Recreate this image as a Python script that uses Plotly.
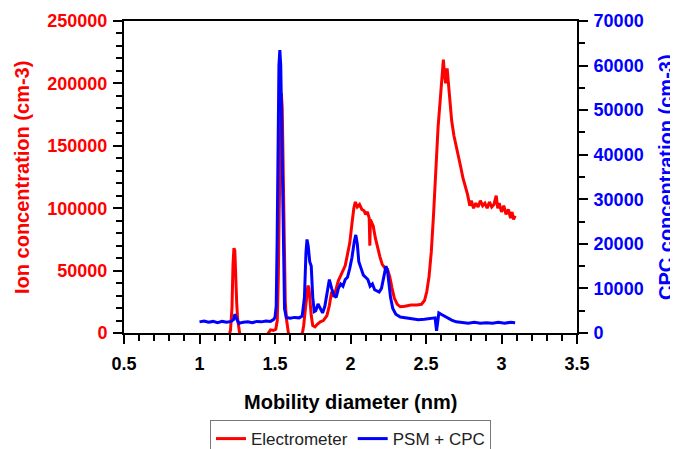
import plotly.graph_objects as go

# ---- Electrometer (ion concentration, left axis) ----
red_d = [1.00, 1.10, 1.19, 1.205, 1.215, 1.222, 1.228, 1.234, 1.240, 1.246, 1.252, 1.258, 1.265, 1.275,
         1.35, 1.44, 1.46, 1.47, 1.49, 1.505, 1.515, 1.522, 1.528, 1.535, 1.542, 1.548, 1.553, 1.558,
         1.563, 1.568, 1.575, 1.582, 1.59, 1.60, 1.66, 1.683, 1.69, 1.70, 1.71, 1.718, 1.725, 1.732,
         1.74, 1.75, 1.765, 1.78, 1.80, 1.82, 1.844, 1.86, 1.875, 1.89, 1.905, 1.92, 1.935, 1.95,
         1.965, 1.98, 1.995, 2.01, 2.022, 2.032, 2.045, 2.06, 2.075, 2.09, 2.10, 2.112, 2.124, 2.128,
         2.132, 2.138, 2.15, 2.165, 2.18, 2.195, 2.21, 2.228, 2.245, 2.26, 2.275, 2.29, 2.31, 2.33,
         2.36, 2.40, 2.44, 2.47, 2.49, 2.505, 2.52, 2.535, 2.55, 2.565, 2.58, 2.595, 2.605, 2.615,
         2.622, 2.63, 2.64, 2.65, 2.66, 2.67, 2.685, 2.70, 2.715, 2.73, 2.745, 2.76, 2.775, 2.79,
         2.80, 2.815, 2.83, 2.845, 2.86, 2.875, 2.89, 2.905, 2.92, 2.935, 2.95, 2.965, 2.975, 2.985,
         3.00, 3.015, 3.03, 3.045, 3.06, 3.07, 3.08, 3.09]
red_v = [-8000, -6000, -4000, 2000, 20000, 55000, 68000, 66000, 40000, 25000, 12000, 4000, 500, -4000,
         -5000, -3000, 1500, 2500, 2000, 3000, 10000, 45000, 100000, 165000, 192000, 180000, 140000, 90000,
         50000, 25000, 12000, 4000, -1000, -6000, -6000, 1000, 6000, 18000, 30000, 38000, 36000, 25000,
         14000, 6000, 5000, 7000, 9000, 10000, 14000, 22000, 33000, 29000, 36000, 42000, 46000, 50000,
         54000, 63000, 72000, 88000, 100000, 105000, 101000, 103000, 99000, 98000, 95000, 97000, 92000, 70000,
         91000, 89000, 86000, 76000, 68000, 61000, 55000, 52000, 51000, 45000, 36000, 28000, 23000, 21000,
         21500, 22500, 22500, 23000, 26000, 33000, 45000, 65000, 95000, 130000, 165000, 188000, 205000, 219000,
         208000, 200000, 212000, 198000, 188000, 170000, 158000, 150000, 143000, 133000, 124000, 118000, 111000, 102000,
         106000, 100000, 104000, 101000, 106000, 102000, 104000, 100000, 105000, 101000, 103000, 110000, 100000, 104000,
         97000, 102000, 95000, 99000, 92000, 97000, 91000, 94000]

# ---- PSM + CPC (CPC concentration, right axis) ----
blue_d = [1.00, 1.03, 1.06, 1.09, 1.12, 1.15, 1.18, 1.21, 1.225, 1.235, 1.245, 1.26, 1.29, 1.32, 1.35,
          1.38, 1.41, 1.44, 1.47, 1.49, 1.50, 1.508, 1.514, 1.520, 1.526, 1.532, 1.538, 1.544, 1.550,
          1.556, 1.563, 1.575, 1.60, 1.63, 1.66, 1.68, 1.695, 1.705, 1.712, 1.72, 1.73, 1.74, 1.75,
          1.76, 1.77, 1.785, 1.80, 1.815, 1.83, 1.845, 1.86, 1.875, 1.89, 1.905, 1.92, 1.935, 1.95,
          1.965, 1.98, 1.995, 2.01, 2.025, 2.035, 2.045, 2.055, 2.07, 2.085, 2.10, 2.115, 2.13, 2.145,
          2.16, 2.175, 2.19, 2.205, 2.22, 2.235, 2.245, 2.255, 2.265, 2.28, 2.30, 2.33, 2.37, 2.41,
          2.45, 2.49, 2.53, 2.56, 2.57, 2.578, 2.585, 2.60, 2.62, 2.64, 2.67, 2.70, 2.74, 2.78,
          2.82, 2.86, 2.90, 2.94, 2.98, 3.02, 3.06, 3.09]
blue_v = [2500, 2700, 2400, 2600, 2300, 2600, 2400, 2600, 3000, 4200, 3200, 2200, 2400, 2500, 2300,
          2600, 2500, 2700, 2600, 3000, 3500, 6000, 20000, 45000, 60000, 63500, 60000, 48000, 30000,
          14000, 5500, 3500, 3300, 3500, 3400, 3800, 8000, 18000, 21000, 19500, 16000, 15000, 8000,
          4800, 5000, 6500, 5500, 4500, 6000, 9500, 12000, 10000, 8500, 8000, 10000, 11000, 10500,
          12000, 12500, 14500, 17000, 20500, 22000, 20000, 16000, 14500, 13000, 12500, 12000, 10500, 11000,
          9700, 9500, 9200, 10000, 12500, 15000, 14000, 11000, 8000, 5500, 4200, 3600, 3400, 3100,
          3000, 3100, 3200, 3400, 500, 2500, 4500, 4200, 3800, 3500, 2900, 2500, 2400, 2200,
          2400, 2200, 2300, 2200, 2400, 2200, 2400, 2300]

x_ticks = [0.5, 1, 1.5, 2, 2.5, 3, 3.5]

FONT = "Liberation Sans, Arial, sans-serif"

fig = go.Figure()
fig.add_trace(go.Scatter(x=red_d, y=red_v, mode="lines", name="Electrometer",
                         line=dict(color="#ff0000", width=3), yaxis="y"))
fig.add_trace(go.Scatter(x=blue_d, y=blue_v, mode="lines", name="PSM + CPC",
                         line=dict(color="#0000ff", width=3), yaxis="y2"))

tickfont_bold = dict(family=FONT, size=18, weight="bold")

# the page body adds an ~8px offset, so the figure is sized to fit the window
fig.update_layout(
    width=670, height=441,
    margin=dict(l=116, r=101, t=13, b=116, autoexpand=False),
    paper_bgcolor="white", plot_bgcolor="white",
    font=dict(family=FONT),
    xaxis=dict(range=[0.5, 3.5], tickvals=x_ticks, ticktext=[str(t) for t in x_ticks],
               showgrid=False, zeroline=False, automargin=False,
               showline=True, linecolor="black", linewidth=2, mirror=True,
               ticks="outside", ticklen=9, tickwidth=2, tickcolor="black",
               minor=dict(dtick=0.1, tick0=0.5, ticks="outside", ticklen=6, tickwidth=2, tickcolor="black"),
               tickfont=dict(color="black", **tickfont_bold), ticklabelstandoff=4),
    yaxis=dict(range=[0, 250000], dtick=50000, tickformat="d",
               showgrid=False, zeroline=False, automargin=False,
               showline=True, linecolor="black", linewidth=2,
               ticks="outside", ticklen=9, tickwidth=2, tickcolor="black",
               minor=dict(dtick=10000, ticks="outside", ticklen=6, tickwidth=2, tickcolor="black"),
               tickfont=dict(color="#ff0000", **tickfont_bold), ticklabelstandoff=2),
    yaxis2=dict(range=[0, 70000], dtick=10000, tickformat="d", overlaying="y", side="right",
                showgrid=False, zeroline=False, automargin=False,
                showline=True, linecolor="black", linewidth=2,
                ticks="outside", ticklen=9, tickwidth=2, tickcolor="black",
                minor=dict(dtick=5000, ticks="outside", ticklen=6, tickwidth=2, tickcolor="black"),
                tickfont=dict(color="#0000ff", **tickfont_bold), ticklabelstandoff=2),
    showlegend=True,
    legend=dict(orientation="h", x=0.5, xanchor="center", y=-0.279, yanchor="top",
                bordercolor="#777777", borderwidth=1, bgcolor="white",
                font=dict(family=FONT, size=17, color="#222222"), itemwidth=30,
                traceorder="normal"),
    annotations=[
        dict(text="Mobility diameter (nm)", xref="paper", yref="paper", x=0.5, y=-0.2212,
             xanchor="center", yanchor="middle", showarrow=False,
             font=dict(family=FONT, size=20, color="black", weight="bold")),
        dict(text="Ion concentration (cm-3)", xref="paper", yref="paper", x=-0.2252, y=0.5,
             xanchor="center", yanchor="middle", showarrow=False, textangle=-90,
             font=dict(family=FONT, size=20, color="#ff0000", weight="bold")),
        dict(text="CPC concentration (cm-3)", xref="paper", yref="paper", x=1.1965, y=0.5,
             xanchor="center", yanchor="middle", showarrow=False, textangle=-90,
             font=dict(family=FONT, size=20, color="#0000ff", weight="bold")),
    ],
)

fig.write_html("out.html")
